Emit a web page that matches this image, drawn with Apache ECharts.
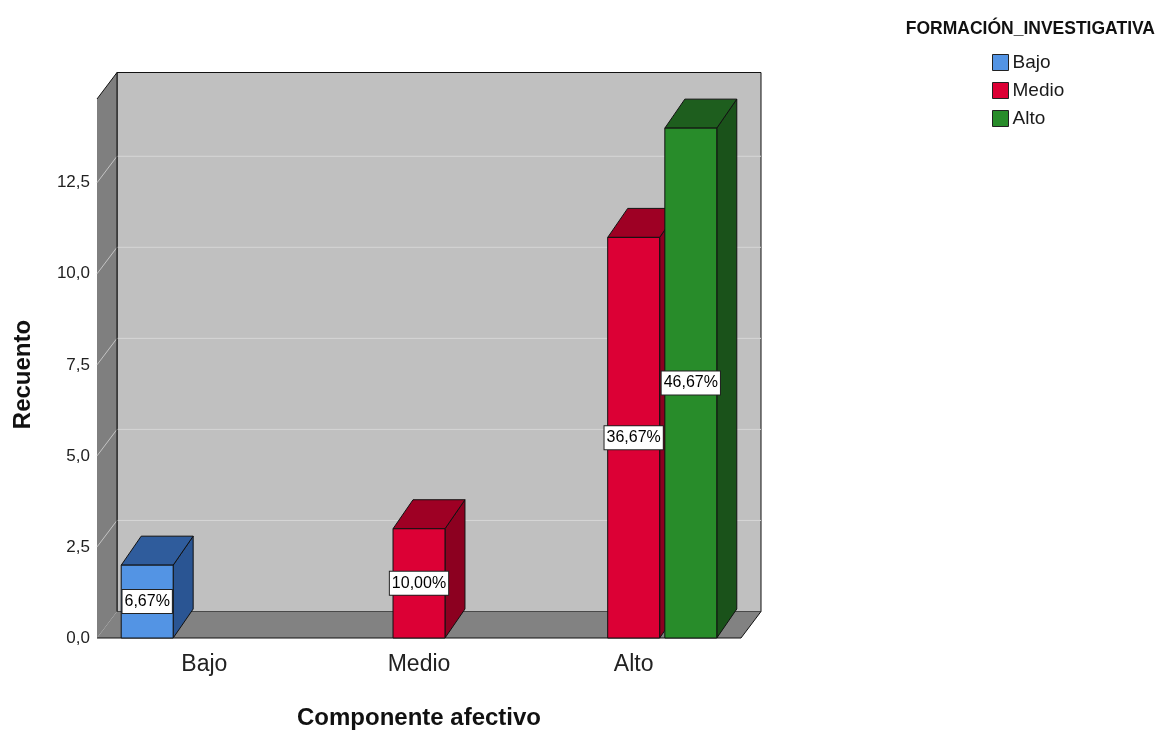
<!DOCTYPE html>
<html><head><meta charset="utf-8">
<script src="https://cdn.jsdelivr.net/npm/echarts@6/dist/echarts.min.js"></script>
<style>html,body{margin:0;padding:0;background:#fff}#c{width:1158px;height:735px}</style>
</head><body><div id="c"></div>
<script>
// ---- data ----
const categories = ['Bajo', 'Medio', 'Alto'];
const seriesNames = ['Bajo', 'Medio', 'Alto'];
const bajoCounts  = [2, null, null];
const medioCounts = [null, 3, 11];
const altoCounts  = [null, null, 14];
const yAxisMin = 0, yAxisMax = 14.8, yAxisInterval = 2.5;
const legendTitle = 'FORMACIÓN_INVESTIGATIVA';
const xAxisTitle = 'Componente afectivo';
const yAxisTitle = 'Recuento';

// ---- style ----
const palette = [
  { front: '#5394e4', top: '#2f5c9c', side: '#2a5593' },
  { front: '#dc0035', top: '#9e0024', side: '#8c0020' },
  { front: '#288c2a', top: '#1e5e1e', side: '#1a521a' }
];
const WX = 20, WY = 26.5;      // wall depth
const BX = 20, BY = 29;        // bar depth
const BAR_FRAC = 0.242, GAP_FRAC = 0.1;
const FONT = 'Liberation Sans';

const allCounts = [bajoCounts, medioCounts, altoCounts];
const total = allCounts.flat().filter(v => v != null).reduce((a, b) => a + b, 0);
const fmtPct = v => (v / total * 100).toFixed(2).replace('.', ',') + '%';

const chart = echarts.init(document.getElementById('c'), null, { renderer: 'canvas' });

function frameRender(params, api) {
  const cs = params.coordSys;
  const x = cs.x, y = cs.y, w = cs.width, h = cs.height;
  const children = [];
  children.push({ type: 'rect', shape: { x: x + WX, y: y - WY, width: w, height: h },
    style: { fill: '#c0c0c0', stroke: '#111', lineWidth: 1 } });
  children.push({ type: 'polygon', shape: { points: [[x, y], [x + WX, y - WY], [x + WX, y + h - WY], [x, y + h]] },
    style: { fill: '#7f7f7f' } });
  children.push({ type: 'polygon', shape: { points: [[x, y + h], [x + WX, y + h - WY], [x + w + WX, y + h - WY], [x + w, y + h]] },
    style: { fill: '#828282' } });
  for (let v = yAxisMin + yAxisInterval; v < yAxisMax; v += yAxisInterval) {
    const yy = api.coord([0, v])[1];
    children.push({ type: 'line', shape: { x1: x, y1: yy, x2: x + WX, y2: yy - WY },
      style: { stroke: '#c4c4c4', lineWidth: 1 } });
    children.push({ type: 'line', shape: { x1: x + WX, y1: yy - WY, x2: x + w + WX, y2: yy - WY },
      style: { stroke: '#d6d6d6', lineWidth: 1 } });
  }
  children.push({ type: 'line', shape: { x1: x, y1: y, x2: x + WX, y2: y - WY }, style: { stroke: '#111', lineWidth: 1 } });
  children.push({ type: 'line', shape: { x1: x + WX, y1: y - WY, x2: x + WX, y2: y + h - WY }, style: { stroke: '#111', lineWidth: 1 } });
  children.push({ type: 'line', shape: { x1: x, y1: y + h, x2: x + w, y2: y + h }, style: { stroke: '#111', lineWidth: 1.2 } });
  children.push({ type: 'line', shape: { x1: x + w, y1: y + h, x2: x + w + WX, y2: y + h - WY }, style: { stroke: '#111', lineWidth: 1 } });
  return { type: 'group', children };
}

function barSeries(idx) {
  const counts = allCounts[idx];
  const col = palette[idx];
  const data = [];
  counts.forEach((v, i) => { if (v != null) data.push([i, v]); });
  return {
    type: 'custom', name: seriesNames[idx], coordinateSystem: 'cartesian2d',
    itemStyle: { color: col.front },
    encode: { x: 0, y: 1 }, data, z: 3 + idx,
    renderItem(params, api) {
      const ci = api.value(0), v = api.value(1);
      const base = api.coord([ci, 0]);
      const top = api.coord([ci, v]);
      const band = api.size([1, 0])[0];
      const bw = band * BAR_FRAC;
      const step = bw * (1 + GAP_FRAC);
      const cx = base[0] + (idx - 1) * step;
      const x0 = cx - bw / 2, x1 = cx + bw / 2, yb = base[1], yt = top[1];
      const st = { stroke: '#111', lineWidth: 1, lineJoin: 'round' };
      return { type: 'group', children: [
        { type: 'polygon', shape: { points: [[x1, yt], [x1 + BX, yt - BY], [x1 + BX, yb - BY], [x1, yb]] },
          style: Object.assign({ fill: col.side }, st) },
        { type: 'polygon', shape: { points: [[x0, yt], [x1, yt], [x1 + BX, yt - BY], [x0 + BX, yt - BY]] },
          style: Object.assign({ fill: col.top }, st) },
        { type: 'rect', shape: { x: x0, y: yt, width: bw, height: yb - yt },
          style: Object.assign({ fill: col.front }, st) },
        { type: 'text', z2: 10, style: {
            x: cx, y: (yt + yb) / 2, text: fmtPct(v), align: 'center', verticalAlign: 'middle',
            font: '16px "' + FONT + '"', fill: '#000',
            backgroundColor: '#fff', borderColor: '#222', borderWidth: 1, padding: [4, 2, 3, 2] } }
      ] };
    }
  };
}

const option = {
  animation: false,
  backgroundColor: '#fff',
  title: {
    text: legendTitle, right: 3, top: 20, padding: 0,
    textStyle: { fontFamily: FONT, fontWeight: 'bold', fontSize: 17.5, color: '#111' }
  },
  legend: {
    data: seriesNames.map((n, i) => ({ name: n, itemStyle: { color: palette[i].front, borderColor: '#222', borderWidth: 1 } })),
    orient: 'vertical', left: 992, top: 53, padding: 0, itemWidth: 16, itemHeight: 16, itemGap: 9, icon: 'rect',
    selectedMode: false,
    textStyle: { fontFamily: FONT, fontSize: 19, color: '#1a1a1a', padding: [0, 0, 0, -1] }
  },
  grid: { left: 97, right: 417, top: 99, bottom: 96, containLabel: false },
  xAxis: {
    type: 'category', data: categories,
    name: xAxisTitle, nameLocation: 'middle', nameGap: 68,
    nameTextStyle: { fontFamily: FONT, fontWeight: 'bold', fontSize: 24, color: '#111' },
    axisLine: { show: false }, axisTick: { show: false }, splitLine: { show: false },
    axisLabel: { fontFamily: FONT, fontSize: 23, color: '#222', margin: 15 }
  },
  yAxis: {
    type: 'value', min: yAxisMin, max: yAxisMax, interval: yAxisInterval,
    name: yAxisTitle, nameLocation: 'middle', nameGap: 62, nameRotate: 90,
    nameTextStyle: { fontFamily: FONT, fontWeight: 'bold', fontSize: 24, color: '#111', padding: [0, 12, 0, 0] },
    axisLine: { show: false }, axisTick: { show: false }, splitLine: { show: false },
    axisLabel: { fontFamily: FONT, fontSize: 17, color: '#222', margin: 7, showMaxLabel: false,
      formatter: v => (v > yAxisMax - yAxisInterval / 2 ? '' : v.toFixed(1).replace('.', ',')) }
  },
  series: [
    { type: 'custom', name: '__frame', coordinateSystem: 'cartesian2d', silent: true, z: 1,
      data: [[0, 0]], encode: { x: 0, y: 1 }, renderItem: frameRender },
    barSeries(0), barSeries(1), barSeries(2)
  ]
};
chart.setOption(option);
</script></body></html>
